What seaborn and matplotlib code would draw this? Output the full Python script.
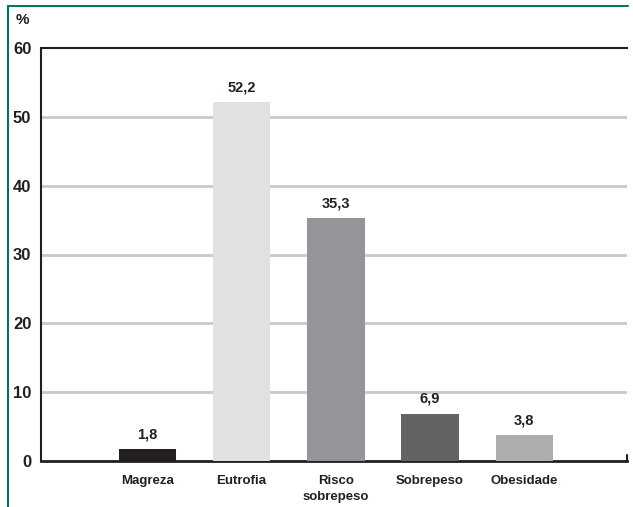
import matplotlib
matplotlib.use("Agg")
import matplotlib.pyplot as plt
import seaborn as sns
import pandas as pd
from matplotlib.lines import Line2D
from matplotlib import font_manager

categories = ["Magreza", "Eutrofia", "Risco\nsobrepeso", "Sobrepeso", "Obesidade"]
values = [1.8, 52.2, 35.3, 6.9, 3.8]
value_labels = ["1,8", "52,2", "35,3", "6,9", "3,8"]
bar_colors = ["#231f20", "#e0e1e3", "#949598", "#636365", "#acadaf"]
yticks = [0, 10, 20, 30, 40, 50, 60]

sns.set_theme(style="white")
names = {f.name for f in font_manager.fontManager.ttflist}
fam = "Liberation Sans Narrow" if "Liberation Sans Narrow" in names else "Liberation Sans"
plt.rcParams["font.family"] = [fam, "DejaVu Sans"]

df = pd.DataFrame({"cat": categories, "val": values})

fig = plt.figure(figsize=(6.33, 5.07), dpi=100)
ax = fig.add_axes([41/633, 1-461/507, (627-41)/633, (461-48)/507])

sns.barplot(data=df, x="cat", y="val", hue="cat", palette=bar_colors, legend=False,
            width=0.61, saturation=1, linewidth=0, edgecolor="none", ax=ax, zorder=3)

ax.set_xlim(-1.13, 5.09)
ax.set_ylim(0, 60)
ax.set_yticks(yticks)
ax.set_yticklabels([str(t) for t in yticks], fontsize=12, fontweight="bold", color="#231f20")
ax.tick_params(axis="y", length=0, pad=7)
ax.tick_params(axis="x", length=0, pad=10)
for lab in ax.get_xticklabels():
    lab.set_fontsize(9.5)
    lab.set_fontweight("bold")
    lab.set_color("#231f20")
    lab.set_linespacing(1.45)
    lab.set_verticalalignment("top")
ax.set_xlabel("")
ax.set_ylabel("")

for y in yticks[1:-1]:
    ax.axhline(y, color="#c8c9cb", lw=2, zorder=1)

ax.spines["right"].set_visible(False)
ax.spines["top"].set_color("#231f20")
ax.spines["top"].set_linewidth(1.5)
ax.spines["left"].set_color("#231f20")
ax.spines["left"].set_linewidth(1.5)
ax.spines["bottom"].set_color("#231f20")
ax.spines["bottom"].set_linewidth(2)
ax.plot([5.09, 5.09], [0, 0.9], color="#231f20", lw=1.5, clip_on=False, transform=ax.transData)

for i, (v, t) in enumerate(zip(values, value_labels)):
    ax.text(i, v + 1.1, t, ha="center", va="bottom", fontsize=10.5, fontweight="bold", color="#231f20")

fig.text(22/633, 1-20/507, "%", ha="center", va="center", fontsize=11, fontweight="bold", color="#231f20")

green = "#00775a"
fig.add_artist(Line2D([8/633, 628/633], [1-6/507, 1-6/507], color=green, lw=1.5, transform=fig.transFigure))
fig.add_artist(Line2D([8/633, 8/633], [1-6/507, 0], color=green, lw=1.5, transform=fig.transFigure))

fig.savefig("out.png", dpi=100)
